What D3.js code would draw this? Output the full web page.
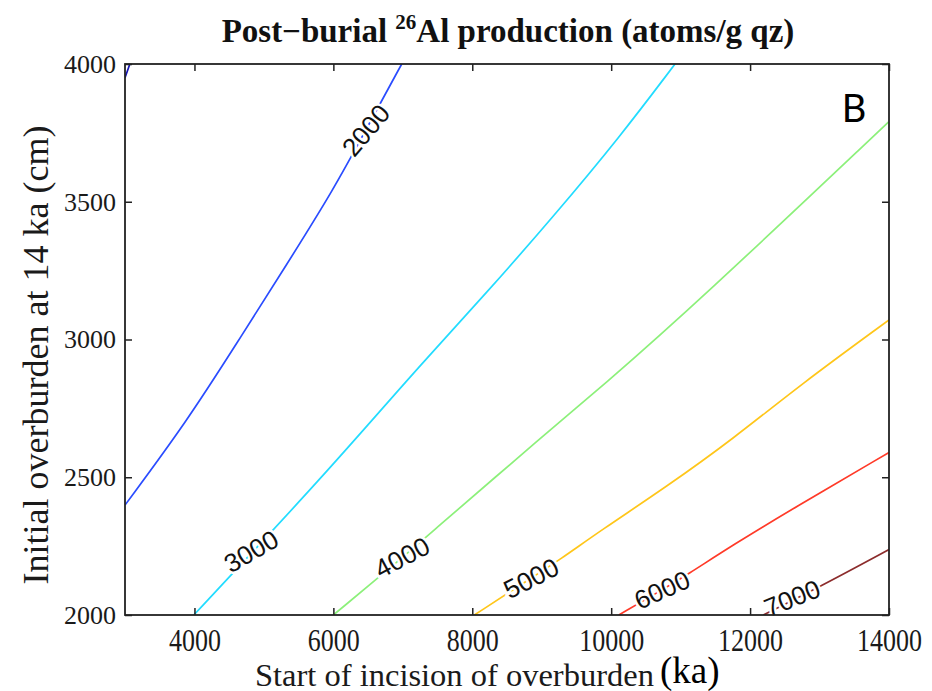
<!DOCTYPE html>
<html>
<head>
<meta charset="utf-8">
<script src="https://cdn.jsdelivr.net/npm/d3@7/dist/d3.min.js"></script>
<style>
  html, body { margin: 0; padding: 0; background: #fff; }
  svg { display: block; }
</style>
</head>
<body>
<div class="container"></div>
<script>
// contour levels and their lines (x = ka, y = cm)
var levels = [1000, 2000, 3000, 4000, 5000, 6000, 7000];
var contour1000 = [[3000,3950],[3070,4000]];
var contour2000 = [[3000,2399],[3888,2702],[4608,2986],[5328,3272],[6000,3543],[6466,3760],[6984,4000]];
var contour3000 = [[3990,2000],[4814,2222],[5801,2491],[6670,2739],[7247,2905],[8208,3170],[9167,3446],[10127,3736],[10919,4000]];
var contour4000 = [[6000,2000],[6988,2207],[7316,2279],[9063,2660],[9839,2823],[11279,3143],[13995,3790]];
var contour5000 = [[8030,2000],[8846,2134],[9257,2200],[9839,2305],[10799,2466],[11759,2640],[12719,2835],[14000,3071]];
var contour6000 = [[10110,2000],[10732,2091],[11087,2145],[11759,2255],[12608,2385],[14000,2590]];
var contour7000 = [[12190,2000],[13006,2103],[14000,2238]];
var contours = [contour1000, contour2000, contour3000, contour4000, contour5000, contour6000, contour7000];

// where the inline labels sit (data units)
var labelLevels = [2000, 3000, 4000, 5000, 6000, 7000];
var labelAt = [[6466,3760],[4814,2232],[6988,2210],[8846,2134],[10732,2092],[12604,2062]];

var xTicks = [4000, 6000, 8000, 10000, 12000, 14000];
var yTicks = [2000, 2500, 3000, 3500, 4000];

// styles
var colors = ["#1414b4", "#2a4cff", "#22dcff", "#8cf07a", "#ffc61a", "#ff3a28", "#8c2c2c"];
var labelAngle = [-50, -30, -28, -27, -24, -22];

var W = 932, H = 691;
var m = {left: 125, right: 889, top: 64, bottom: 615};

var x = d3.scaleLinear().domain([3000, 14000]).range([m.left, m.right]);
var y = d3.scaleLinear().domain([2000, 4000]).range([m.bottom, m.top]);

var svg = d3.select(".container").append("svg").attr("width", W).attr("height", H);
svg.append("rect").attr("width", W).attr("height", H).attr("fill", "#fff");

svg.append("clipPath").attr("id", "plot")
  .append("rect").attr("x", m.left).attr("y", m.top)
  .attr("width", m.right - m.left).attr("height", m.bottom - m.top);

var line = d3.line()
  .x(function(d){ return x(d[0]); })
  .y(function(d){ return y(d[1]); })
  .curve(d3.curveBasis);

svg.append("g").attr("clip-path", "url(#plot)")
  .selectAll("path").data(contours).enter().append("path")
  .attr("d", line)
  .attr("fill", "none")
  .attr("stroke", function(d, i){ return colors[i]; })
  .attr("stroke-width", 1.7);

// inline labels, white halo breaks the line like clabel does
svg.append("g").selectAll("text").data(labelLevels).enter().append("text")
  .attr("transform", function(d, i){
    return "translate(" + x(labelAt[i][0]) + "," + y(labelAt[i][1]) + ") rotate(" + labelAngle[i] + ")";
  })
  .attr("text-anchor", "middle")
  .attr("dy", "0.36em")
  .attr("font-family", "Liberation Sans, Arial, sans-serif")
  .attr("font-size", 26)
  .attr("fill", "#111")
  .attr("stroke", "#fff")
  .attr("stroke-width", 5)
  .attr("paint-order", "stroke")
  .text(function(d){ return d; });

// axes, ticks pointing inward on all four sides
var tk = 7;
var fmt = d3.format("d");
var gx = svg.append("g").attr("transform", "translate(0," + m.bottom + ")")
  .call(d3.axisBottom(x).tickValues(xTicks).tickFormat(fmt).tickSizeInner(-tk).tickSizeOuter(0).tickPadding(13));
gx.selectAll("text")
  .attr("font-family", "Liberation Serif, Times New Roman, serif")
  .attr("font-size", 32)
  .attr("fill", "#1a1a1a")
  .attr("textLength", function(d){ return String(d).length * 13; })
  .attr("lengthAdjust", "spacingAndGlyphs");

var gy = svg.append("g").attr("transform", "translate(" + m.left + ",0)")
  .call(d3.axisLeft(y).tickValues(yTicks).tickFormat(fmt).tickSizeInner(-tk).tickSizeOuter(0).tickPadding(9));
gy.selectAll("text")
  .attr("font-family", "Liberation Serif, Times New Roman, serif")
  .attr("font-size", 26)
  .attr("fill", "#1a1a1a");

svg.append("g").attr("transform", "translate(0," + m.top + ")")
  .call(d3.axisTop(x).tickValues(xTicks).tickSizeInner(-tk).tickSizeOuter(0).tickFormat(""));
svg.append("g").attr("transform", "translate(" + m.right + ",0)")
  .call(d3.axisRight(y).tickValues(yTicks).tickSizeInner(-tk).tickSizeOuter(0).tickFormat(""));

svg.selectAll(".domain").remove();
svg.selectAll(".tick line").attr("stroke", "#222").attr("stroke-width", 1.5);

svg.append("rect")
  .attr("x", m.left).attr("y", m.top)
  .attr("width", m.right - m.left).attr("height", m.bottom - m.top)
  .attr("fill", "none").attr("stroke", "#222").attr("stroke-width", 1.8);

// title
var title = svg.append("text")
  .attr("x", (m.left + m.right) / 2 + 1).attr("y", 42)
  .attr("text-anchor", "middle")
  .attr("font-family", "Liberation Serif, Times New Roman, serif")
  .attr("font-weight", "bold")
  .attr("font-size", 33)
  .attr("fill", "#111");
title.append("tspan").text("Post\u2212burial ");
title.append("tspan").attr("font-size", 21).attr("dy", -13).text("26");
title.append("tspan").attr("dy", 13).text("Al production (atoms/g qz)");

// axis titles
svg.append("text")
  .attr("transform", "translate(48," + 355 + ") rotate(-90)")
  .attr("text-anchor", "middle")
  .attr("font-family", "Liberation Serif, Times New Roman, serif")
  .attr("font-size", 36)
  .attr("fill", "#1a1a1a")
  .text("Initial overburden at 14 ka (cm)");

svg.append("text")
  .attr("x", 255).attr("y", 686)
  .attr("font-family", "Liberation Serif, Times New Roman, serif")
  .attr("font-size", 32.5)
  .attr("fill", "#1a1a1a")
  .text("Start of incision of overburden");

svg.append("text")
  .attr("x", 660).attr("y", 683)
  .attr("font-family", "Liberation Serif, Times New Roman, serif")
  .attr("font-size", 37)
  .attr("fill", "#000")
  .text("(ka)");

// panel letter
svg.append("text")
  .attr("x", 854).attr("y", 122)
  .attr("text-anchor", "middle")
  .attr("font-family", "Lato, Open Sans, sans-serif")
  .attr("font-size", 38)
  .attr("fill", "#000")
  .text("B");
</script>
</body>
</html>
